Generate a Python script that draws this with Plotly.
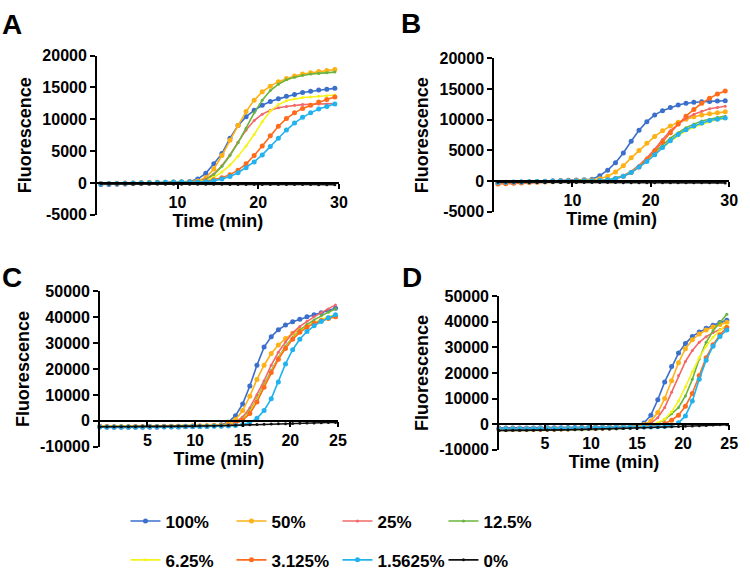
import plotly.graph_objects as go

# time points (min)
t_ab = [0.5, 1.5, 2.5, 3.5, 4.5, 5.5, 6.5, 7.5, 8.5, 9.5, 10.5, 11.5, 12.5, 13.5, 14.5,
        15.5, 16.5, 17.5, 18.5, 19.5, 20.5, 21.5, 22.5, 23.5, 24.5, 25.5, 26.5, 27.5, 28.5, 29.5]
t_cd = [0, 0.75, 1.5, 2.25, 3, 3.75, 4.5, 5.25, 6, 6.75, 7.5, 8.25, 9, 9.75, 10.5, 11.25, 12,
        12.75, 13.5, 14.25, 15, 15.75, 16.5, 17.25, 18, 18.75, 19.5, 20.25, 21, 21.75, 22.5,
        23.25, 24, 24.75]

labels = ["100%", "50%", "25%", "12.5%", "6.25%", "3.125%", "1.5625%", "0%"]
colors = ["#3A6FCC", "#FDB116", "#F2686A", "#6AB43E", "#F7F21C", "#FF6B1C", "#22B2EE", "#111111"]
msizes = [5, 5, 3, 3, 3, 5, 5, 3]

# panel A
a_100 = [-250, -230, -200, -170, -130, -90, -50, -10, 30, 70, 120, 220, 600, 1500, 3000, 4600, 7000,
         9000, 10400, 11400, 12200, 12800, 13200, 13600, 13900, 14200, 14400, 14600, 14700, 14850]
a_50 = [-150, -140, -120, -90, -60, -30, 0, 30, 60, 100, 150, 200, 300, 800, 2200, 4300, 6700, 9000,
        11200, 13000, 14300, 15200, 15900, 16400, 16800, 17100, 17300, 17500, 17650, 17800]
a_25 = [-200, -180, -150, -120, -90, -60, -30, 0, 40, 80, 120, 170, 200, 600, 1400, 2700, 4400, 6400,
        8300, 9800, 10800, 11400, 11800, 12000, 12200, 12300, 12350, 12400, 12400, 12450]
a_12 = [-200, -170, -140, -110, -80, -50, -20, 10, 50, 90, 130, 160, 200, 500, 1300, 2600, 4300, 6300,
        8600, 11000, 13000, 14500, 15500, 16200, 16600, 16900, 17100, 17200, 17300, 17400]
a_6 = [-180, -160, -130, -100, -70, -40, -10, 20, 60, 90, 120, 140, 150, 400, 900, 1700, 2800, 4200,
       5800, 7600, 9600, 11300, 12300, 12900, 13200, 13400, 13500, 13600, 13700, 13800]
a_3 = [-100, -80, -60, -30, 0, 30, 60, 90, 110, 130, 110, 100, 100, 250, 500, 800, 1300, 2000, 3000,
       4300, 5800, 7400, 8900, 10100, 11000, 11700, 12200, 12700, 13100, 13500]
a_1 = [-120, -100, -80, -50, -20, 10, 40, 80, 120, 160, 180, 150, 100, 200, 350, 600, 1000, 1600, 2400,
       3300, 4400, 5700, 7000, 8300, 9400, 10300, 11000, 11600, 12000, 12400]
a_0 = [-150, -160, -170, -170, -180, -180, -190, -190, -200, -200, -200, -210, -210, -220, -220, -220,
       -230, -230, -240, -240, -240, -250, -250, -250, -260, -260, -260, -270, -270, -270]

# panel B
b_100 = [-300, -250, -200, -150, -100, -50, 0, 50, 100, 150, 200, 250, 300, 900, 1800, 3000, 4600, 6500,
         8300, 9700, 10800, 11500, 12000, 12400, 12700, 12850, 12950, 13000, 13050, 13100]
b_50 = [-350, -300, -250, -200, -150, -100, -60, -20, 20, 60, 100, 150, 200, 400, 800, 1500, 2500, 3800,
        5000, 6200, 7300, 8200, 9000, 9600, 10100, 10500, 10800, 11000, 11150, 11300]
b_25 = [-250, -220, -190, -160, -130, -100, -70, -40, -10, 20, 40, 60, 80, 150, 250, 500, 900, 1600,
        2600, 3800, 5200, 6800, 8200, 9300, 10200, 10900, 11400, 11800, 12000, 12200]
b_12 = [-280, -250, -210, -170, -130, -100, -70, -40, -10, 20, 40, 60, 80, 150, 250, 500, 900, 1500,
        2400, 3500, 4700, 5900, 7000, 7900, 8700, 9300, 9800, 10100, 10400, 10600]
b_6 = [-300, -260, -220, -180, -140, -110, -80, -50, -20, 10, 30, 50, 70, 130, 230, 450, 800, 1400,
       2300, 3300, 4400, 5500, 6500, 7400, 8200, 8800, 9300, 9700, 10000, 10200]
b_3 = [-450, -400, -340, -280, -220, -170, -120, -80, -40, 0, 30, 40, 50, 100, 200, 400, 800, 1400,
       2300, 3500, 4900, 6400, 7900, 9300, 10600, 11700, 12700, 13500, 14200, 14700]
b_1 = [-200, -180, -150, -120, -90, -60, -40, -20, 0, 20, 40, 50, 60, 120, 220, 420, 800, 1400, 2300,
       3200, 4300, 5500, 6600, 7600, 8400, 9000, 9500, 9900, 10100, 10300]
b_0 = [-180, -180, -190, -190, -200, -200, -200, -210, -210, -210, -220, -220, -220, -230, -230, -230,
       -240, -240, -240, -250, -250, -250, -250, -260, -260, -260, -270, -270, -270, -280]

# panel C
c_100 = [-2400, -2500, -2500, -2500, -2500, -2500, -2500, -2450, -2450, -2400, -2400, -2350, -2300,
         -2250, -2200, -2100, -1900, -1500, -500, 2000, 6500, 13500, 21500, 28500, 32500, 35200,
         37000, 38300, 39300, 40200, 41000, 41800, 42600, 43500]
c_50 = [-2200, -2250, -2300, -2300, -2300, -2300, -2250, -2250, -2200, -2200, -2150, -2100, -2050,
        -2000, -1950, -1900, -1800, -1700, -1000, 500, 4000, 9500, 16000, 21500, 26000, 29300, 31800,
        33800, 35300, 36600, 37700, 38700, 39500, 40300]
c_25 = [-2000, -2100, -2150, -2150, -2150, -2100, -2100, -2050, -2050, -2000, -2000, -1950, -1900,
        -1900, -1850, -1800, -1750, -1700, -1500, -500, 1500, 5000, 10000, 15500, 21500, 26500, 30500,
        34000, 36500, 38500, 40200, 41800, 43200, 44800]
c_12 = [-1900, -2000, -2050, -2050, -2050, -2000, -2000, -1950, -1950, -1900, -1900, -1850, -1850,
        -1800, -1800, -1750, -1750, -1700, -1600, -800, 800, 3800, 8500, 14000, 19500, 24500, 28800,
        32200, 35000, 37200, 39000, 40600, 42000, 43300]
c_6 = [-1900, -1950, -2000, -2000, -2000, -1950, -1950, -1900, -1900, -1850, -1850, -1800, -1800,
       -1750, -1750, -1700, -1700, -1650, -1550, -900, 600, 3300, 8000, 13500, 19000, 24000, 28300,
       31800, 34500, 36500, 38000, 39300, 40300, 41000]
c_3 = [-2100, -2200, -2250, -2250, -2250, -2200, -2200, -2150, -2150, -2100, -2100, -2050, -2050,
       -2000, -2000, -1950, -1900, -1850, -1700, -1100, 300, 2800, 7300, 13000, 18700, 23800, 28000,
       31500, 34200, 36200, 37700, 38800, 39600, 40200]
c_1 = [-2300, -2400, -2400, -2400, -2400, -2350, -2350, -2300, -2300, -2300, -2250, -2250, -2200,
       -2200, -2150, -2150, -2100, -2100, -2000, -1800, -1400, -600, 1000, 4000, 8500, 15000, 22000,
       27500, 31500, 34500, 36700, 38400, 39800, 41000]
c_0 = [-2300, -2300, -2300, -2250, -2250, -2250, -2200, -2200, -2200, -2150, -2150, -2100, -2100,
       -2050, -2000, -2000, -1950, -1900, -1800, -1700, -1600, -1500, -1400, -1300, -1250, -1150,
       -1100, -1000, -950, -850, -800, -700, -650, -600]

# panel D
d_100 = [-1500, -1500, -1550, -1550, -1500, -1500, -1450, -1450, -1400, -1400, -1350, -1300, -1250,
         -1200, -1150, -1100, -1050, -1000, -950, -900, -500, 400, 3500, 9500, 16500, 22500, 27800,
         31500, 34300, 36000, 37500, 38700, 39700, 40600]
d_50 = [-1800, -1850, -1850, -1850, -1800, -1800, -1750, -1750, -1700, -1700, -1650, -1600, -1550,
        -1500, -1450, -1400, -1300, -1200, -1100, -1000, -800, -200, 1200, 4500, 10000, 17000, 24000,
        29500, 33000, 35200, 36800, 38000, 39000, 39800]
d_25 = [-2000, -2050, -2050, -2050, -2000, -2000, -1950, -1950, -1900, -1900, -1850, -1800, -1750,
        -1700, -1650, -1600, -1500, -1400, -1300, -1200, -1000, -600, 300, 2500, 6500, 12500, 19000,
        24500, 28800, 32000, 34200, 35800, 37000, 38000]
d_12 = [-2500, -2550, -2550, -2500, -2500, -2450, -2450, -2400, -2400, -2350, -2300, -2250, -2200,
        -2150, -2100, -2000, -1900, -1800, -1700, -1500, -1300, -1000, -700, 300, 1800, 4000, 6500,
        11000, 17500, 25500, 32000, 36500, 39800, 43000]
d_6 = [-2200, -2250, -2250, -2200, -2200, -2150, -2150, -2100, -2100, -2050, -2000, -1950, -1900,
       -1850, -1800, -1700, -1600, -1500, -1400, -1200, -1000, -700, -300, 500, 2000, 4800, 9000,
       14500, 20500, 26000, 30500, 34000, 36800, 38800]
d_3 = [-2100, -2150, -2150, -2100, -2100, -2050, -2050, -2000, -2000, -1950, -1900, -1850, -1800,
       -1750, -1700, -1650, -1550, -1450, -1350, -1250, -1100, -950, -800, -500, 200, 1500, 3500,
       7000, 12000, 19000, 26000, 31000, 35000, 37800]
d_1 = [-1900, -1950, -1950, -1900, -1900, -1850, -1850, -1800, -1800, -1750, -1700, -1650, -1600,
       -1550, -1500, -1450, -1400, -1350, -1300, -1250, -1200, -1150, -1100, -1000, -900, -500, 500,
       3200, 9000, 17500, 25000, 30500, 34300, 36800]
d_0 = [-2500, -2500, -2450, -2450, -2400, -2400, -2350, -2350, -2300, -2250, -2200, -2150, -2100,
       -2050, -2000, -1950, -1900, -1800, -1700, -1600, -1500, -1400, -1300, -1200, -1100, -1000,
       -900, -800, -700, -600, -500, -400, -300, -250]

panels = [
    # letter, time, series, x range, y range, x ticks, y ticks, x px, y px (bottom, top)
    ("A", t_ab, [a_100, a_50, a_25, a_12, a_6, a_3, a_1, a_0], [0, 30], [-5000, 20000],
     [10, 20, 30], [-5000, 0, 5000, 10000, 15000, 20000], (98, 343), (213, 49)),
    ("B", t_ab, [b_100, b_50, b_25, b_12, b_6, b_3, b_1, b_0], [0, 30], [-5000, 20000],
     [10, 20, 30], [-5000, 0, 5000, 10000, 15000, 20000], (500, 738), (210, 52)),
    ("C", t_cd, [c_100, c_50, c_25, c_12, c_6, c_3, c_1, c_0], [0, 25], [-10000, 50000],
     [5, 10, 15, 20, 25], [-10000, 0, 10000, 20000, 30000, 40000, 50000], (101, 342), (452, 292)),
    ("D", t_cd, [d_100, d_50, d_25, d_12, d_6, d_3, d_1, d_0], [0, 25], [-10000, 50000],
     [5, 10, 15, 20, 25], [-10000, 0, 10000, 20000, 30000, 40000, 50000], (505, 738), (455, 297)),
]
letter_pos = {"A": (12, 17), "B": (416, 16), "C": (12, 278), "D": (417, 278)}

W, H = 750, 580
FONT = "Arial, Liberation Sans, sans-serif"

fig = go.Figure()
layout = {}
annotations = []

for i, (letter, t, series, xr, yr, xt, yt, xpx, ypx) in enumerate(panels):
    n = "" if i == 0 else str(i + 1)
    for j, ys in enumerate(series):
        fig.add_trace(go.Scatter(
            x=t, y=ys, mode="lines+markers", name=labels[j],
            line=dict(color=colors[j], width=1.6),
            marker=dict(color=colors[j], size=msizes[j]),
            xaxis="x" + n, yaxis="y" + n, cliponaxis=False,
            showlegend=(i == 0),
            legend="legend" if j < 4 else "legend2",
        ))
    ydom = [1 - ypx[0] / H, 1 - ypx[1] / H]
    zero_pos = ydom[0] + (0 - yr[0]) / (yr[1] - yr[0]) * (ydom[1] - ydom[0])
    layout["xaxis" + n] = dict(
        domain=[xpx[0] / W, xpx[1] / W], range=xr, anchor="free", position=zero_pos,
        showline=True, linecolor="black", linewidth=1.5, showgrid=False, zeroline=False,
        ticks="outside", ticklen=5, tickwidth=1.5, tickcolor="black",
        tickvals=xt, ticktext=[str(v) for v in xt],
        tickfont=dict(family=FONT, size=16, color="black", weight="bold"),
        title=dict(text="Time (min)", standoff=0,
                   font=dict(family=FONT, size=18, color="black", weight="bold")),
    )
    layout["yaxis" + n] = dict(
        domain=ydom, range=yr, anchor="x" + n,
        showline=True, linecolor="black", linewidth=1.5, showgrid=False, zeroline=False,
        ticks="outside", ticklen=5, tickwidth=1.5, tickcolor="black",
        tickvals=yt, ticktext=[str(v) for v in yt],
        tickfont=dict(family=FONT, size=16, color="black", weight="bold"),
        title=dict(text="Fluorescence", standoff=6,
                   font=dict(family=FONT, size=18, color="black", weight="bold")),
    )
    lx, ly = letter_pos[letter]
    annotations.append(dict(
        text=letter, x=lx / W, y=1 - ly / H, xref="paper", yref="paper",
        showarrow=False, xanchor="center", yanchor="middle",
        font=dict(family=FONT, size=28, color="black", weight="bold"),
    ))

legend_style = dict(
    orientation="h", xanchor="left", yanchor="middle", x=127 / W,
    entrywidth=61, entrywidthmode="pixels", itemwidth=30,
    font=dict(family=FONT, size=17, color="black", weight="bold"),
    bgcolor="rgba(0,0,0,0)",
)

fig.update_layout(
    width=W, height=H,
    margin=dict(l=0, r=0, t=0, b=0),
    paper_bgcolor="white", plot_bgcolor="white",
    annotations=annotations,
    legend=dict(legend_style, y=1 - 529 / H),
    legend2=dict(legend_style, y=1 - 569 / H),
    **layout,
)

# no page margin, so the 750x580 figure fills the window
fig.write_html("out.html", config={"displayModeBar": False},
               post_script="document.documentElement.style.margin='0';"
                           "document.body.style.margin='0';"
                           "document.body.style.overflow='hidden';")
